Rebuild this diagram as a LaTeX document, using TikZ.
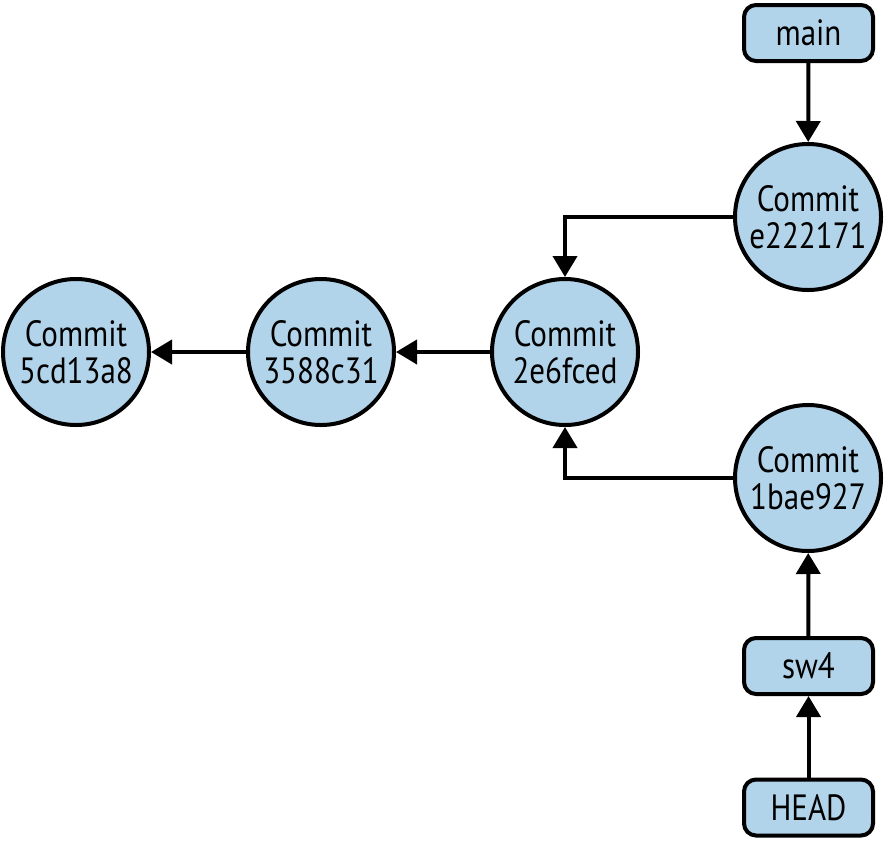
\documentclass[tikz,border=0pt]{standalone}
\usepackage{fontspec}
\setmainfont[FakeStretch=0.85]{PT Sans}
\usetikzlibrary{arrows.meta}
\definecolor{nodefill}{RGB}{178,212,234}
\tikzset{
  commit/.style={circle, draw=black, line width=4pt, fill=nodefill,
    minimum size=146pt, inner sep=0pt, align=center,
    font=\fontsize{36.5pt}{37.5pt}\selectfont},
  ref/.style={rectangle, rounded corners=12pt, draw=black, line width=4pt,
    fill=nodefill, minimum width=129pt, minimum height=56pt, inner sep=0pt,
    font=\fontsize{36.5pt}{37.5pt}\selectfont},
  link/.style={line width=4pt, -{Triangle[length=21pt,width=24pt]}},
}
\begin{document}
\begin{tikzpicture}[x=1pt,y=-1pt]
  \useasboundingbox (0,0) rectangle (885,841);
  % commit chain
  \node[commit] (c1) at (76,352)  {Commit\\5cd13a8};
  \node[commit] (c2) at (321,352) {Commit\\3588c31};
  \node[commit] (c3) at (565,352) {Commit\\2e6fced};
  \node[commit] (ce) at (808,217) {Commit\\e222171};
  \node[commit] (cb) at (808,478) {Commit\\1bae927};
  % branch and HEAD refs
  \node[ref] (main) at (808.5,33)  {main};
  \node[ref] (sw4)  at (808.5,666) {sw4};
  \node[ref] (head) at (808.5,807.5) {HEAD};
  % parent links
  \draw[link] (c2) -- (c1);
  \draw[link] (c3) -- (c2);
  \draw[link] (ce.west) -| (c3.north);
  \draw[link] (cb.west) -| (c3.south);
  % ref pointers
  \draw[link] (main) -- (ce);
  \draw[link] (sw4) -- (cb);
  \draw[link] (head) -- (sw4);
\end{tikzpicture}
\end{document}
